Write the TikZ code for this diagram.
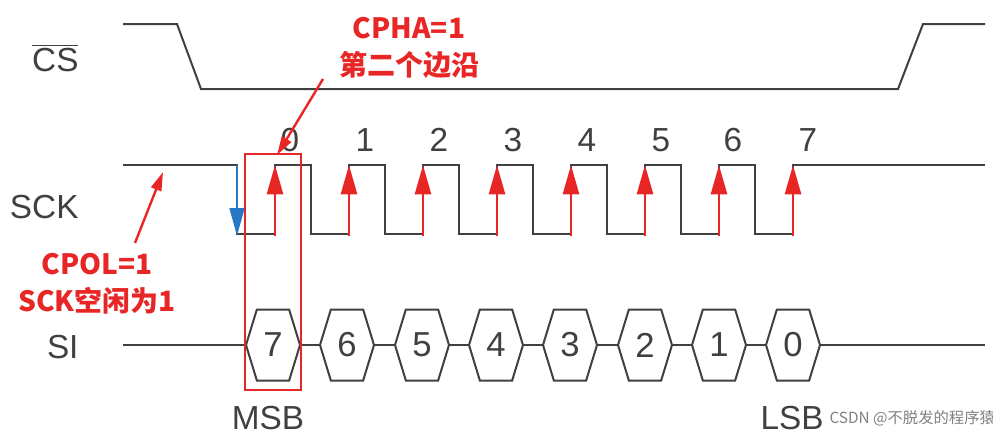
\documentclass[tikz,border=0pt]{standalone}
\usepackage{fontspec}
\setmainfont{Liberation Sans}
\newfontfamily\cjk{Noto Sans CJK SC}
\usetikzlibrary{arrows.meta,shapes.symbols}

\definecolor{wavegray}{RGB}{64,64,64}
\definecolor{markred}{RGB}{232,38,38}
\definecolor{edgeblue}{RGB}{36,120,196}

\tikzset{every picture/.style={line width=0.75pt}}
\tikzset{
  wave/.style={draw=wavegray, line width=1.5pt},
  risearrow/.style={draw=markred, line width=2pt, -{Triangle[width=12pt,length=22pt]}},
  fallarrow/.style={draw=edgeblue, line width=2pt, -{Triangle[width=11pt,length=21pt]}},
  bitcell/.style={signal, signal to=east and west, signal pointer angle=146, draw=wavegray, line width=1.5pt, minimum width=40.5pt, minimum height=53.25pt, inner sep=0pt, font=\fontsize{26}{26}\selectfont, text=wavegray},
  sig/.style={font=\fontsize{25}{25}\selectfont, text=wavegray, inner sep=0.75pt},
  note/.style={font=\cjk\bfseries\fontsize{21}{28}\selectfont, text=markred, align=center, inner sep=0.75pt},
  notearrow/.style={draw=markred, line width=1.8pt, -{Triangle[width=8pt,length=14pt]}},
  markbox/.style={draw=markred, line width=1.8pt}
}

\begin{document}
\begin{tikzpicture}[x=0.75pt,y=0.75pt,yscale=-1,xscale=1]
\useasboundingbox (0,0) rectangle (993,444);

% Text Node
\node [sig, anchor=east] (cslbl) at (80,62) {$\overline{\hbox{CS\vphantom{$\Big|$}}}$};
% Text Node
\node [sig, anchor=east] (scklbl) at (80,207) {SCK};
% Text Node
\node [sig, anchor=east] (silbl) at (80,347) {SI};

%Straight Lines [CS]
\draw [wave] (123,24) -- (177,24) -- (201,89) -- (898,89) -- (923,24) -- (985,24) ;

%Straight Lines [SCK]
\draw [wave] (123,165) -- (237,165) -- (237,234) -- (275,234) -- (275,165) -- (311,165) -- (311,234) -- (349,234) -- (349,165) -- (385,165) -- (385,234) -- (423,234) -- (423,165) -- (459,165) -- (459,234) -- (497,234) -- (497,165) -- (533,165) -- (533,234) -- (571,234) -- (571,165) -- (607,165) -- (607,234) -- (645,234) -- (645,165) -- (681,165) -- (681,234) -- (719,234) -- (719,165) -- (755,165) -- (755,234) -- (793,234) -- (793,165) -- (985,165) ;

%Edge arrows
\draw [fallarrow] (237,165) -- (237,236) ;
\draw [risearrow] (275,236) -- (275,165) ;
\draw [risearrow] (349,236) -- (349,165) ;
\draw [risearrow] (423,236) -- (423,165) ;
\draw [risearrow] (497,236) -- (497,165) ;
\draw [risearrow] (571,236) -- (571,165) ;
\draw [risearrow] (645,236) -- (645,165) ;
\draw [risearrow] (719,236) -- (719,165) ;
\draw [risearrow] (793,236) -- (793,165) ;

% Text Node
\node [sig] (e0) at (290,140) {0};
\node [sig] (e1) at (365,140) {1};
\node [sig] (e2) at (439,140) {2};
\node [sig] (e3) at (513,140) {3};
\node [sig] (e4) at (587,140) {4};
\node [sig] (e5) at (661,140) {5};
\node [sig] (e6) at (733,140) {6};
\node [sig] (e7) at (808,140) {7};

%Shape: Hexagon
\node [bitcell] (b7) at (273,345) {7};
\node [bitcell] (b6) at (347,345) {6};
\node [bitcell] (b5) at (422,345) {5};
\node [bitcell] (b4) at (496,345) {4};
\node [bitcell] (b3) at (570,345) {3};
\node [bitcell] (b2) at (645,345) {2};
\node [bitcell] (b1) at (719,345) {1};
\node [bitcell] (b0) at (793,345) {0};

%Straight Lines [SI]
\coordinate (sistart) at (123,345);
\coordinate (siend) at (985,345);
\draw [wave] (sistart) -- (b7.west) ;
\draw [wave] (b7.east) -- (b6.west) ;
\draw [wave] (b6.east) -- (b5.west) ;
\draw [wave] (b5.east) -- (b4.west) ;
\draw [wave] (b4.east) -- (b3.west) ;
\draw [wave] (b3.east) -- (b2.west) ;
\draw [wave] (b2.east) -- (b1.west) ;
\draw [wave] (b1.east) -- (b0.west) ;
\draw [wave] (b0.east) -- (siend) ;

%Shape: Rectangle
\draw [markbox] (245,154) rectangle (301,390) ;

% Text Node
\node [sig] (msb) at (268,418) {MSB};
\node [sig] (lsb) at (792,418) {LSB};

% Text Node
\node [note] (cpha) at (409,48) {CPHA=1\\第二个边沿};
\coordinate (cphatail) at (323,79);
\coordinate (cphatip) at (277,155);
\draw [notearrow] (cphatail) -- (cphatip) ;

% Text Node
\node [note] (cpol) at (97,284) {CPOL=1\\SCK空闲为1};
\coordinate (cpoltail) at (135,243);
\coordinate (cpoltip) at (163,172);
\draw [notearrow] (cpoltail) -- (cpoltip) ;

% Text Node
\node [font=\cjk\fontsize{11.5}{12}\selectfont, text=gray, anchor=west, inner sep=0.75pt] (mark) at (828,418) {CSDN @不脱发的程序猿};

\end{tikzpicture}
\end{document}
